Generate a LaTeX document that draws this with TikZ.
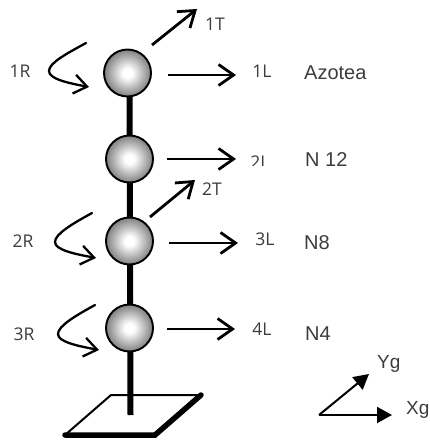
\documentclass[tikz,border=0pt]{standalone}
\usepackage{fontspec}
\setmainfont{Open Sans}
\newfontfamily\levelfont{Liberation Sans}
\usetikzlibrary{arrows.meta}
\definecolor{inkgrey}{RGB}{60,60,60}
\pgfdeclareradialshading{ballshade}{\pgfpointorigin}{color(0bp)=(white);color(5bp)=(white);color(25bp)=(black!50);color(100bp)=(black!50)}
\tikzset{
  ball/.style={circle,draw=black,line width=1.9pt,minimum size=47pt,inner sep=0pt,shading=ballshade},
  spine/.style={line width=6pt,black},
  force/.style={line width=2.8pt,black,-{Straight Barb[length=15pt,width=21pt,line width=2.8pt]}},
  moment/.style={line width=2.3pt,black,-{Straight Barb[length=13pt,width=19pt,line width=2.3pt]},line cap=round},
  axis/.style={line width=2pt,black,-{Triangle[length=15pt,width=16pt]}},
  lab/.style={text=inkgrey,font=\fontsize{17.5}{17.5}\selectfont,inner sep=0pt},
  lev/.style={text=inkgrey,font=\levelfont\fontsize{20}{20}\selectfont,inner sep=0pt,anchor=west},
  axlab/.style={text=inkgrey,font=\levelfont\fontsize{19}{19}\selectfont,inner sep=0pt,anchor=west},
}
\begin{document}
\begin{tikzpicture}[x=1pt,y=-1pt]
\useasboundingbox (0,0) rectangle (430,441);
% base
\coordinate (bA) at (111,395);
\coordinate (bB) at (201,395);
\coordinate (bC) at (155,435);
\coordinate (bD) at (65,435);
\draw[line width=2pt] (bD) -- (bA) -- (bB);
\draw[line width=5.5pt,line cap=round] (bB) -- (bC) -- (bD);
% spine
\coordinate (foot) at (130.5,415);
\coordinate (top) at (129.5,73);
\draw[spine] (top) -- (foot);
% balls
\node[ball] (n1) at (127.5,73) {};
\node[ball] (n2) at (129.5,159) {};
\node[ball] (n3) at (129.5,241) {};
\node[ball] (n4) at (129.5,328) {};
% translation arrows
\coordinate (e1T) at (197,9);
\coordinate (e1L) at (236,75);
\coordinate (e2L) at (236,159);
\coordinate (e2T) at (195,180);
\coordinate (e3L) at (238,243);
\coordinate (e4L) at (235,329);
\coordinate (s1T) at (152,45);
\coordinate (s1L) at (168,75);
\coordinate (s2L) at (167,159);
\coordinate (s2T) at (150,217);
\coordinate (s3L) at (169,243);
\coordinate (s4L) at (167,329);
\draw[force] (s1T) -- (e1T);
\draw[force] (s1L) -- (e1L);
\draw[force] (s2L) -- (e2L);
\draw[force] (s2T) -- (e2T);
\draw[force] (s3L) -- (e3L);
\draw[force] (s4L) -- (e4L);
% moments
\coordinate (m1s) at (86,43);
\coordinate (m1e) at (89,87);
\coordinate (m2s) at (92,213);
\coordinate (m2e) at (96,258);
\coordinate (m3s) at (95,305);
\coordinate (m3e) at (99,350);
\draw[moment] (m1s) .. controls (66,54) and (49,63) .. (49,71) .. controls (49,79) and (68,83) .. (m1e);
\draw[moment] (m2s) .. controls (72,224) and (55,234) .. (55,242) .. controls (55,250) and (75,254) .. (m2e);
\draw[moment] (m3s) .. controls (75,316) and (58,326) .. (58,334) .. controls (58,342) and (78,346) .. (m3e);
% global axes
\coordinate (o) at (319,415);
\coordinate (yg) at (369,374);
\coordinate (xg) at (392,415);
\draw[axis] (o) -- (yg);
\draw[axis] (o) -- (xg);
% labels
\node[lab] (l1R) at (20,71) {1R};
\node[lab] (l2R) at (23,241) {2R};
\node[lab] (l3R) at (24,334) {3R};
\node[lab] (l1T) at (215,24) {1T};
\node[lab] (l2T) at (212,189) {2T};
\node[lab] (l1L) at (262,71) {1L};
\begin{scope}
\clip (240,150) rectangle (280,165);
\node[lab] (l2L) at (260,162) {2L};
\end{scope}
\node[lab] (l3L) at (265,239) {3L};
\node[lab] (l4L) at (262,329) {4L};
\node[lev] (a) at (304,73) {Azotea};
\node[lev] (b) at (305,160) {N 12};
\node[lev] (c) at (304,243) {N8};
\node[lev] (d) at (305,334) {N4};
\node[axlab] (yl) at (377,364) {Yg};
\node[axlab] (xl) at (406,410) {Xg};
\end{tikzpicture}
\end{document}
